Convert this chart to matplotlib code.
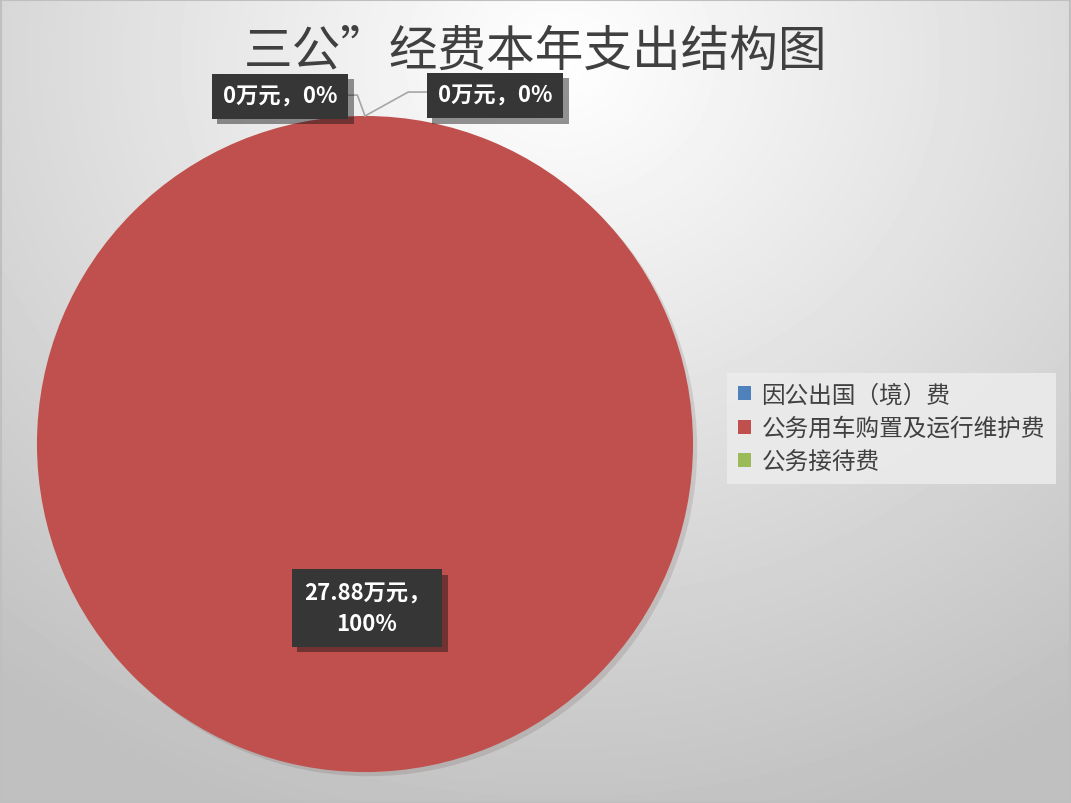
import numpy as np
import matplotlib.pyplot as plt
import matplotlib.patheffects as pe

plt.rcParams['font.family'] = ['Noto Sans CJK SC', 'DejaVu Sans']

# data
categories = ["因公出国（境）费", "公务用车购置及运行维护费", "公务接待费"]
values = [0, 27.88, 0]
colors = ["#4F81BD", "#C0504D", "#9BBB59"]
title = "三公”经费本年支出结构图"

fig = plt.figure(figsize=(10.71, 8.04), dpi=100)

# radial gradient background
bg = fig.add_axes([0, 0, 1, 1], zorder=-10)
yy, xx = np.mgrid[0:804, 0:1071]
r = np.sqrt(((xx - 560) / 900.0) ** 2 + ((yy - 60) / 800.0) ** 2)
r = np.clip(r, 0, 1)
shade = 1.0 - 0.25 * r
bg.imshow(shade, cmap='gray', vmin=0, vmax=1, aspect='auto', extent=[0, 1, 0, 1])
bg.set_xlim(0, 1)
bg.set_ylim(0, 1)
bg.plot([0.001, 0.999, 0.999, 0.001, 0.001], [0.001, 0.001, 0.999, 0.999, 0.001],
        color='#bfbfbf', lw=1.5)
bg.axis('off')

ax = fig.add_axes([0.0345, 0.0385, 0.6126, 0.816])
wedges, _ = ax.pie(values, colors=colors, startangle=90, counterclock=False,
                   wedgeprops=dict(linewidth=0))
for w in wedges:
    w.set_path_effects([pe.SimplePatchShadow(offset=(3, -3), alpha=0.12), pe.Normal()])
ax.set_xlim(-1, 1)
ax.set_ylim(-1, 1)
ax.set_aspect('equal')

total = sum(values)
labels = []
for v in values:
    pct = v / total * 100
    labels.append(f"{v:g}万元，{pct:.0f}%")
labels[1] = f"{values[1]:g}万元，\n{values[1] / total * 100:.0f}%"

txt_pos = [(0.2614, 0.879), (0.3427, 0.2425), (0.4622, 0.880)]
rel = [(1, 0.55), (0.5, 0.5), (0, 0.65)]
conn = ['angle,angleA=0,angleB=110', None, 'angle,angleA=0,angleB=29']
pads = [0.5, 0.55, 0.5]
for i, w in enumerate(wedges):
    ang = np.deg2rad((w.theta1 + w.theta2) / 2)
    if values[i] == 0:
        xy = (np.cos(ang) * 1.0, np.sin(ang) * 1.0)
        ap = dict(arrowstyle='-', color='#a6a6a6', lw=1.2, connectionstyle=conn[i],
                  relpos=rel[i], shrinkA=0, shrinkB=0)
    else:
        xy = (0, -0.5)
        ap = None
    box = dict(boxstyle=f'square,pad={pads[i]}', facecolor='#363636',
               edgecolor='none', linewidth=0)
    t = ax.annotate(labels[i], xy=xy, xytext=txt_pos[i], textcoords='figure fraction',
                    ha='center', va='center', color='white', fontsize=16,
                    fontweight='bold', bbox=box, arrowprops=ap, linespacing=1.4)
    t.get_bbox_patch().set_path_effects([pe.SimplePatchShadow(offset=(4, -4), alpha=0.45,
                                                              shadow_rgbFace='#101010'),
                                         pe.Normal()])

fig.text(0.5, 0.935, title, ha='center', va='center', fontsize=35, color='#404040')

handles = [plt.Rectangle((0, 0), 1, 1, facecolor=c) for c in colors]
leg = fig.legend(handles, categories, loc='upper left', bbox_to_anchor=(0.679, 0.535),
                 bbox_transform=fig.transFigure, fontsize=17, frameon=True,
                 handlelength=0.55, handleheight=0.55, handletextpad=0.45,
                 labelspacing=0.45, borderpad=0.45, borderaxespad=0, fancybox=False)
leg.get_frame().set_facecolor('#ebebeb')
leg.get_frame().set_edgecolor('none')
leg.get_frame().set_alpha(0.9)
for t in leg.get_texts():
    t.set_color('#404040')

fig.savefig('out.png', dpi=100)
